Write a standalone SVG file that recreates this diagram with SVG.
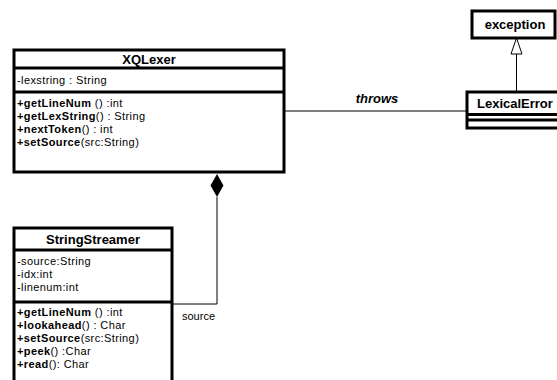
<svg xmlns="http://www.w3.org/2000/svg" width="557" height="380" viewBox="0 0 557 380">
<style>
.box{fill:#fff;stroke:#000;stroke-width:3}
.sep{stroke:#000;stroke-width:3}
.ln{fill:none;stroke:#000;stroke-width:1}
text{font-family:"Liberation Sans",Arial,sans-serif;font-size:11px;letter-spacing:0.4px;fill:#000}
.t{font-weight:bold;font-size:13px;letter-spacing:0;text-anchor:middle}
.b{font-weight:bold}
</style>
<rect width="557" height="380" fill="#fff"/>
<g id="connectors">
<line class="ln" x1="284" y1="111" x2="467" y2="111"/>
<text x="377" y="103" style="font-weight:bold;font-style:italic;font-size:13px;letter-spacing:0" text-anchor="middle">throws</text>
<line class="ln" x1="516.5" y1="54" x2="516.5" y2="92"/>
<polygon points="516.5,38 522,54 511,54" fill="#fff" stroke="#000" stroke-width="1"/>
<polyline class="ln" points="217,197 217,304 172,304"/>
<polygon points="217,174 223.5,185.5 217,197 210.5,185.5" fill="#000"/>
<text x="182" y="320" style="letter-spacing:0">source</text>
</g>
<g id="XQLexer">
<rect class="box" x="14" y="50" width="270" height="122"/>
<line class="sep" x1="14" y1="68" x2="284" y2="68"/>
<line class="sep" x1="14" y1="92" x2="284" y2="92"/>
<text class="t" x="149" y="64">XQLexer</text>
<text x="17" y="84">-lexstring : String</text>
<text x="17" y="107"><tspan class="b">+getLineNum</tspan> () :int</text>
<text x="17" y="120"><tspan class="b">+getLexString</tspan>() : String</text>
<text x="17" y="133"><tspan class="b">+nextToken</tspan>() : int</text>
<text x="17" y="146"><tspan class="b">+setSource</tspan>(src:String)</text>
</g>
<g id="StringStreamer">
<rect class="box" x="14" y="228" width="158" height="160"/>
<line class="sep" x1="14" y1="250" x2="172" y2="250"/>
<line class="sep" x1="14" y1="302" x2="172" y2="302"/>
<text class="t" x="93" y="244">StringStreamer</text>
<text x="17" y="265">-source:String</text>
<text x="17" y="278">-idx:int</text>
<text x="17" y="291">-linenum:int</text>
<text x="17" y="316"><tspan class="b">+getLineNum</tspan> () :int</text>
<text x="17" y="329"><tspan class="b">+lookahead</tspan>() : Char</text>
<text x="17" y="342"><tspan class="b">+setSource</tspan>(src:String)</text>
<text x="17" y="355"><tspan class="b">+peek</tspan>() :Char</text>
<text x="17" y="368"><tspan class="b">+read</tspan>(): Char</text>
</g>
<g id="exception">
<rect class="box" x="472" y="11" width="83" height="27"/>
<text class="t" x="515" y="29">exception</text>
</g>
<g id="LexicalError">
<rect class="box" x="467" y="92" width="100" height="36"/>
<line class="sep" x1="467" y1="114.5" x2="567" y2="114.5"/>
<line class="sep" x1="467" y1="120" x2="567" y2="120"/>
<text class="b" x="477" y="108" style="font-size:13px;letter-spacing:0">LexicalError</text>
</g>
</svg>
